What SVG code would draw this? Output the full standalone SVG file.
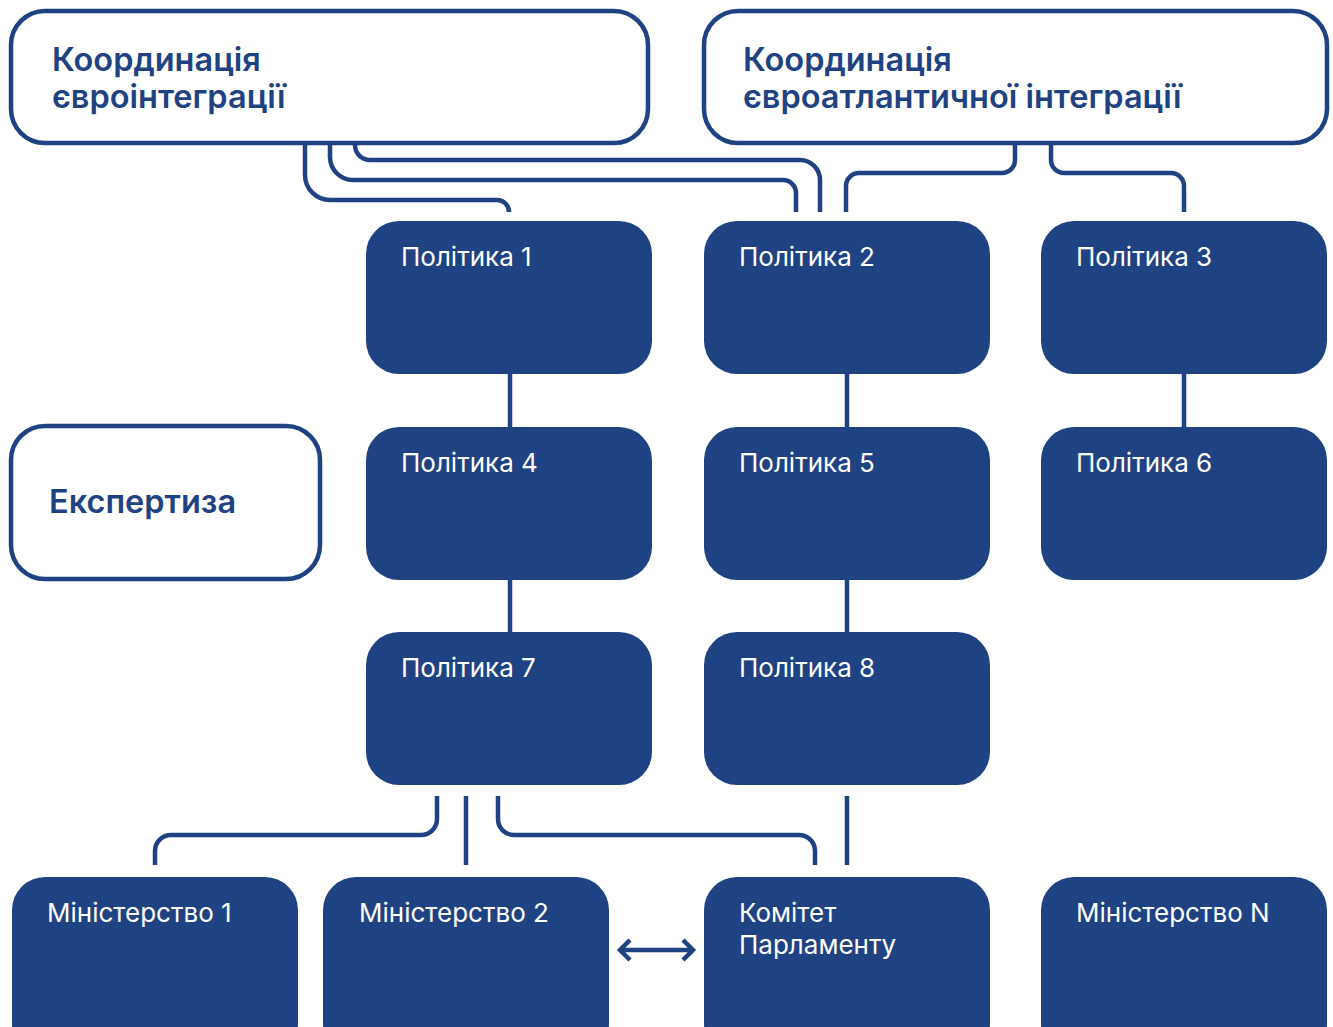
<svg xmlns="http://www.w3.org/2000/svg" width="1333" height="1027" viewBox="0 0 1333 1027">
<style>
.outline{fill:#ffffff;stroke:#1f4382;stroke-width:4.5}
.box{fill:#1f4382}
.hd{font-family:Inter,"Noto Sans",sans-serif;font-weight:600;font-size:32.5px;fill:#1f4382}
.lb{font-family:Inter,"Noto Sans",sans-serif;font-weight:400;font-size:26px;fill:#ffffff}
.conn{fill:none;stroke:#1f4382;stroke-width:4.5}
</style>
<rect width="1333" height="1027" fill="#ffffff"/>
<g id="connectors">
<path class="conn" d="M305 143 V175 A25 25 0 0 0 330 200 H497 A12 12 0 0 1 509 212"/>
<path class="conn" d="M330 143 V157 A23 23 0 0 0 353 180 H783 A13 13 0 0 1 796 193 V212"/>
<path class="conn" d="M355 143 V145 A15 15 0 0 0 370 160 H800 A20 20 0 0 1 820 180 V212"/>
<path class="conn" d="M1015 143 V160 A13 13 0 0 1 1002 173 H859 A13 13 0 0 0 846 186 V212"/>
<path class="conn" d="M1051 143 V160 A13 13 0 0 0 1064 173 H1171 A13 13 0 0 1 1184 186 V212"/>
<path class="conn" d="M510 374 V427 M510 580 V632 M847 374 V427 M847 580 V632 M1184 374 V427"/>
<path class="conn" d="M437 796 V819 A16 16 0 0 1 421 835 H171 A16 16 0 0 0 155 851 V865"/>
<path class="conn" d="M466 796 V865"/>
<path class="conn" d="M498 796 V819 A16 16 0 0 0 514 835 H799 A16 16 0 0 1 815 851 V865"/>
<path class="conn" d="M847 796 V865"/>
<path class="conn" stroke-width="5" d="M622 950 H691 M630 940 L620 950 L630 960 M683 940 L693 950 L683 960"/>
</g>
<g id="coord-euro">
<rect class="outline" x="11" y="11" width="637" height="132" rx="34"/>
<text class="hd" x="52" y="71">Координація</text>
<text class="hd" x="52" y="108">євроінтеграції</text>
</g>
<g id="coord-euroatlantic">
<rect class="outline" x="704" y="11" width="623" height="132" rx="34"/>
<text class="hd" x="743" y="71">Координація</text>
<text class="hd" x="743" y="108">євроатлантичної інтеграції</text>
</g>
<g id="expertise">
<rect class="outline" x="11" y="426" width="309" height="153" rx="34"/>
<text class="hd" x="49" y="513">Експертиза</text>
</g>
<g id="policy1"><rect class="box" x="366" y="221" width="286" height="153" rx="33"/><text class="lb" x="401" y="266">Політика 1</text></g>
<g id="policy2"><rect class="box" x="704" y="221" width="286" height="153" rx="33"/><text class="lb" x="739" y="266">Політика 2</text></g>
<g id="policy3"><rect class="box" x="1041" y="221" width="286" height="153" rx="33"/><text class="lb" x="1076" y="266">Політика 3</text></g>
<g id="policy4"><rect class="box" x="366" y="427" width="286" height="153" rx="33"/><text class="lb" x="401" y="472">Політика 4</text></g>
<g id="policy5"><rect class="box" x="704" y="427" width="286" height="153" rx="33"/><text class="lb" x="739" y="472">Політика 5</text></g>
<g id="policy6"><rect class="box" x="1041" y="427" width="286" height="153" rx="33"/><text class="lb" x="1076" y="472">Політика 6</text></g>
<g id="policy7"><rect class="box" x="366" y="632" width="286" height="153" rx="33"/><text class="lb" x="401" y="677">Політика 7</text></g>
<g id="policy8"><rect class="box" x="704" y="632" width="286" height="153" rx="33"/><text class="lb" x="739" y="677">Політика 8</text></g>
<g id="ministry1"><rect class="box" x="12" y="877" width="286" height="180" rx="33"/><text class="lb" x="47" y="922">Міністерство 1</text></g>
<g id="ministry2"><rect class="box" x="323" y="877" width="286" height="180" rx="33"/><text class="lb" x="359" y="922">Міністерство 2</text></g>
<g id="committee"><rect class="box" x="704" y="877" width="286" height="180" rx="33"/><text class="lb" x="739" y="922">Комітет</text><text class="lb" x="739" y="954">Парламенту</text></g>
<g id="ministryN"><rect class="box" x="1041" y="877" width="286" height="180" rx="33"/><text class="lb" x="1076" y="922">Міністерство N</text></g>
</svg>
